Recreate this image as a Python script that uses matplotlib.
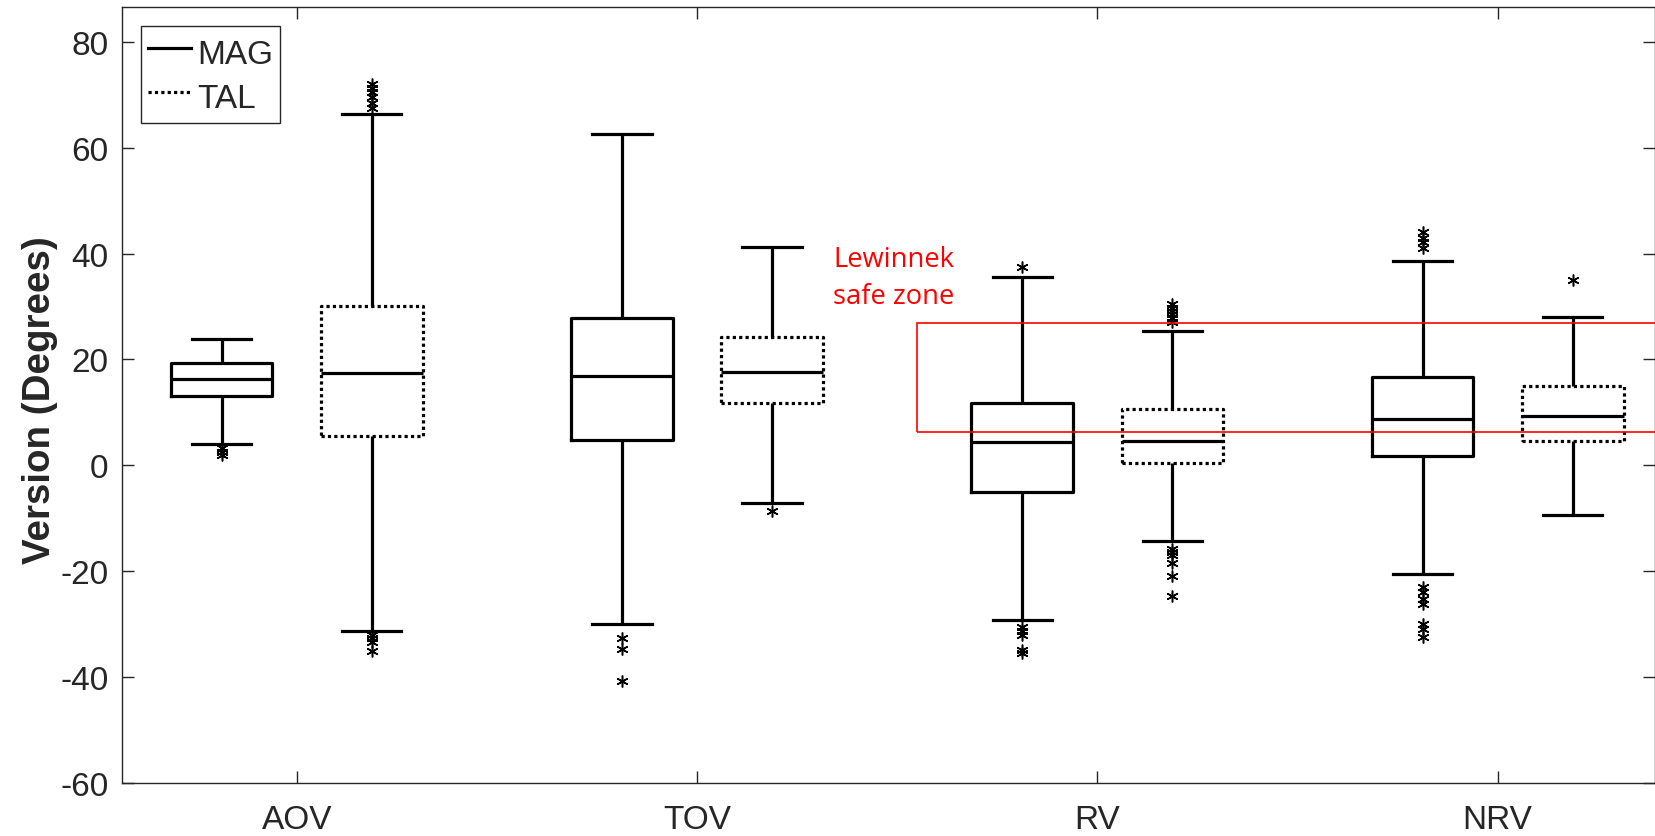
import matplotlib
matplotlib.use('Agg')
import matplotlib.pyplot as plt
from matplotlib.lines import Line2D
from matplotlib.patches import Rectangle

plt.rcParams['axes.unicode_minus'] = False
plt.rcParams['font.family'] = ['Liberation Sans', 'DejaVu Sans']

categories = ['AOV', 'TOV', 'RV', 'NRV']
series = ['MAG', 'TAL']

# MAG statistics per category
mag_whislo = [4.0, -29.9, -29.2, -20.5]
mag_q1 = [13.1, 4.8, -5.0, 1.8]
mag_med = [16.3, 16.8, 4.4, 8.8]
mag_q3 = [19.3, 27.9, 11.7, 16.6]
mag_whishi = [23.8, 62.6, 35.5, 38.6]
mag_fliers = [
    [3.2, 2.6, 2.0],
    [-32.7, -34.7, -40.7],
    [37.5, -30.6, -31.3, -32.0, -34.8, -35.5],
    [41.0, 42.2, 43.0, 44.0, -23.0, -24.0, -25.3, -26.2, -30.0, -30.9, -32.5],
]

# TAL statistics per category
tal_whislo = [-31.2, -7.2, -14.3, -9.3]
tal_q1 = [5.5, 11.7, 0.5, 4.6]
tal_med = [17.4, 17.6, 4.6, 9.3]
tal_q3 = [30.0, 24.3, 10.6, 14.9]
tal_whishi = [66.3, 41.3, 25.4, 28.1]
tal_fliers = [
    [67.5, 68.5, 69.5, 70.5, 71.3, 72.0, -32.0, -32.6, -33.3, -35.0],
    [-8.6],
    [27.0, 27.8, 28.5, 29.2, 29.8, 30.5, -15.8, -16.4, -17.0, -18.4, -20.9, -24.6],
    [35.0],
]

# Lewinnek safe zone (degrees)
safe_zone = [6.2, 26.9]

yticks = [-60, -40, -20, 0, 20, 40, 60, 80]

W, H = 1656, 837
fig = plt.figure(figsize=(W / 100, H / 100), dpi=100)
ax = fig.add_axes([122.3 / W, 1 - 784 / H, (1655 - 122.3) / W, (784 - 8.3) / H])

group_pos = list(range(1, len(categories) + 1))
offset = 0.1875
box_w = 0.254
cap_w = 0.148


def make_stats(whislo, q1, med, q3, whishi, fliers):
    out = []
    for i in range(len(med)):
        out.append(dict(whislo=whislo[i], q1=q1[i], med=med[i], q3=q3[i],
                        whishi=whishi[i], fliers=fliers[i]))
    return out


lw = 2.3
flierprops = dict(marker=(6, 2, 0), markersize=8.5, markeredgecolor='black',
                  markeredgewidth=1.1, linestyle='none')
common = dict(widths=box_w, capwidths=cap_w, showfliers=True,
              whiskerprops=dict(color='black', lw=lw, solid_capstyle='butt'),
              capprops=dict(color='black', lw=lw),
              medianprops=dict(color='black', lw=lw),
              flierprops=flierprops, manage_ticks=False)

ax.bxp(make_stats(mag_whislo, mag_q1, mag_med, mag_q3, mag_whishi, mag_fliers),
       positions=[p - offset for p in group_pos],
       boxprops=dict(color='black', lw=lw, solid_joinstyle='round'), **common)
ax.bxp(make_stats(tal_whislo, tal_q1, tal_med, tal_q3, tal_whishi, tal_fliers),
       positions=[p + offset for p in group_pos],
       boxprops=dict(color='black', lw=lw, linestyle=(0, (1, 1))), **common)

# safe zone rectangle
ax.add_patch(Rectangle((2.549, safe_zone[0]), 5.0, safe_zone[1] - safe_zone[0],
                       fill=False, edgecolor='red', lw=1.2, zorder=5))
ax.text(2.34, 37.7, 'Lewinnek', color='red', fontsize=19.7,
        family=['Open Sans', 'DejaVu Sans'], va='baseline', ha='left')
ax.text(2.34, 30.6, 'safe zone', color='red', fontsize=19.7,
        family=['Open Sans', 'DejaVu Sans'], va='baseline', ha='left')

ax.set_xlim(1 - 0.4357, 4 + 0.393)
ax.set_ylim(-60, 86.5)
ax.set_xticks(group_pos)
ax.set_xticklabels(categories)
ax.set_yticks(yticks)
ax.set_yticklabels([str(v) for v in yticks])

ax.tick_params(direction='in', top=True, right=True, length=8.5, width=1.0,
               color='#262626', labelsize=24, labelcolor='#262626')
ax.tick_params(axis='y', pad=10)
ax.tick_params(axis='x', pad=15)
for s in ax.spines.values():
    s.set_color('#262626')
    s.set_linewidth(1.0)

ax.set_ylabel('Version (Degrees)', fontsize=27.7, fontweight='bold', color='#262626')
ax.yaxis.set_label_coords(-0.042, 0.495)

handles = [Line2D([], [], color='black', lw=lw),
           Line2D([], [], color='black', lw=lw, linestyle=(0, (1, 1)))]
leg = ax.legend(handles, series, loc='upper left', bbox_to_anchor=(0.0122, 0.9763),
                borderaxespad=0, fontsize=24, handlelength=1.3, handletextpad=0.18,
                handleheight=1.45, labelspacing=0.13, borderpad=0.2, fancybox=False,
                framealpha=1, edgecolor='#262626')
leg.get_frame().set_linewidth(1.0)
for t in leg.get_texts():
    t.set_color('#262626')

fig.savefig('out.png', dpi=100)
